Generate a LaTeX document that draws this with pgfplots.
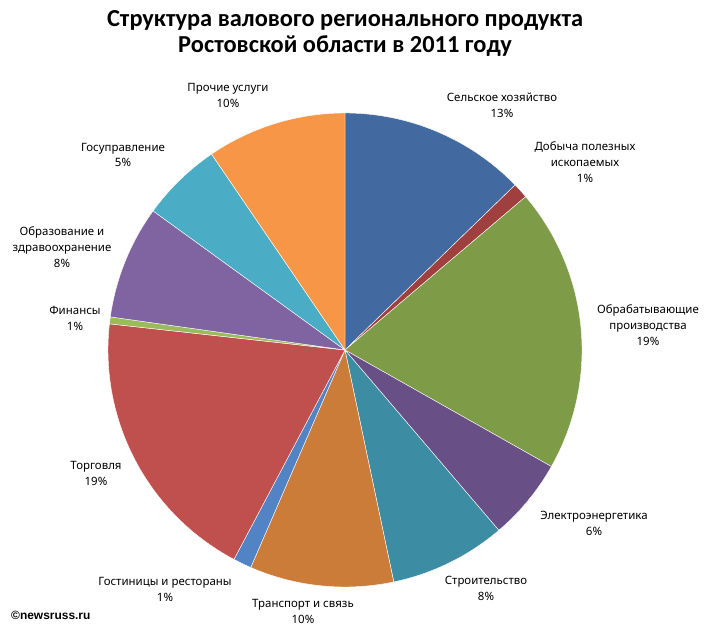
\documentclass[border=0pt]{standalone}
\usepackage{pgfplots}
\pgfplotsset{compat=1.18}
\usepackage{fontspec}
\setmainfont{Noto Sans}
\newfontfamily\titlefont{Carlito}
\newfontfamily\markfont{Liberation Sans}

% Excel-like palette: first six darker shades, then the standard ones
\definecolor{c1}{RGB}{66,106,160}
\definecolor{c2}{RGB}{160,64,62}
\definecolor{c3}{RGB}{126,155,72}
\definecolor{c4}{RGB}{104,80,134}
\definecolor{c5}{RGB}{60,140,163}
\definecolor{c6}{RGB}{204,124,57}
\definecolor{c7}{RGB}{82,131,196}
\definecolor{c8}{RGB}{192,80,77}
\definecolor{c9}{RGB}{155,187,89}
\definecolor{c10}{RGB}{128,100,162}
\definecolor{c11}{RGB}{75,172,198}
\definecolor{c12}{RGB}{247,150,70}

\tikzset{lab/.style={align=center,inner sep=0pt,font=\fontsize{11.5}{16}\selectfont}}

\begin{document}
\begin{tikzpicture}
\begin{axis}[width=706bp,height=632bp,scale only axis,hide axis,
  xmin=0,xmax=706,ymin=0,ymax=632,clip=false]
% shares in percent, clockwise from 12 o'clock
\gdef\cum{0}
\foreach \v/\c in {12.74/c1,1.06/c2,19.38/c3,5.58/c4,7.94/c5,9.81/c6,
                   1.25/c7,19.0/c8,0.47/c9,7.75/c10,5.5/c11,9.52/c12}{
  \pgfmathsetmacro\a{90-3.6*\cum}
  \pgfmathsetmacro\b{90-3.6*(\cum+\v)}
  \edef\tmp{\noexpand\addplot[fill=\c,draw=white,line width=0.4bp,
    domain=\b:\a,samples=80] ({345+237*cos(x)},{282+237*sin(x)})
    -- (axis cs:345,282) -- cycle;}
  \tmp
  \pgfmathsetmacro\n{\cum+\v}
  \xdef\cum{\n}
}

\node[lab] at (axis cs:502,526.5) {Сельское хозяйство\\13\%};
\node[lab] at (axis cs:585,470) {Добыча полезных\\ископаемых\\1\%};
\node[lab] at (axis cs:648,307) {Обрабатывающие\\производства\\19\%};
\node[lab] at (axis cs:594,109) {Электроэнергетика\\6\%};
\node[lab] at (axis cs:486,43.5) {Строительство\\8\%};
\node[lab] at (axis cs:303,20.5) {Транспорт и связь\\10\%};
\node[lab] at (axis cs:165,43) {Гостиницы и рестораны\\1\%};
\node[lab] at (axis cs:96,159) {Торговля\\19\%};
\node[lab] at (axis cs:75,314) {Финансы\\1\%};
\node[lab] at (axis cs:62,385) {Образование и\\здравоохранение\\8\%};
\node[lab] at (axis cs:123,477) {Госуправление\\5\%};
\node[lab] at (axis cs:228,536.5) {Прочие услуги\\10\%};

\node[align=center,inner sep=0pt,font=\titlefont\bfseries\fontsize{24.5}{27}\selectfont]
  at (axis cs:345,598.5) {Структура валового регионального продукта\\Ростовской области в 2011 году};
\node[anchor=west,inner sep=0pt,font=\markfont\bfseries\fontsize{12}{14}\selectfont]
  at (axis cs:11,17) {©newsruss.ru};
\end{axis}
\pgfresetboundingbox
\path (current axis.south west) rectangle (current axis.north east);
\end{tikzpicture}
\end{document}
